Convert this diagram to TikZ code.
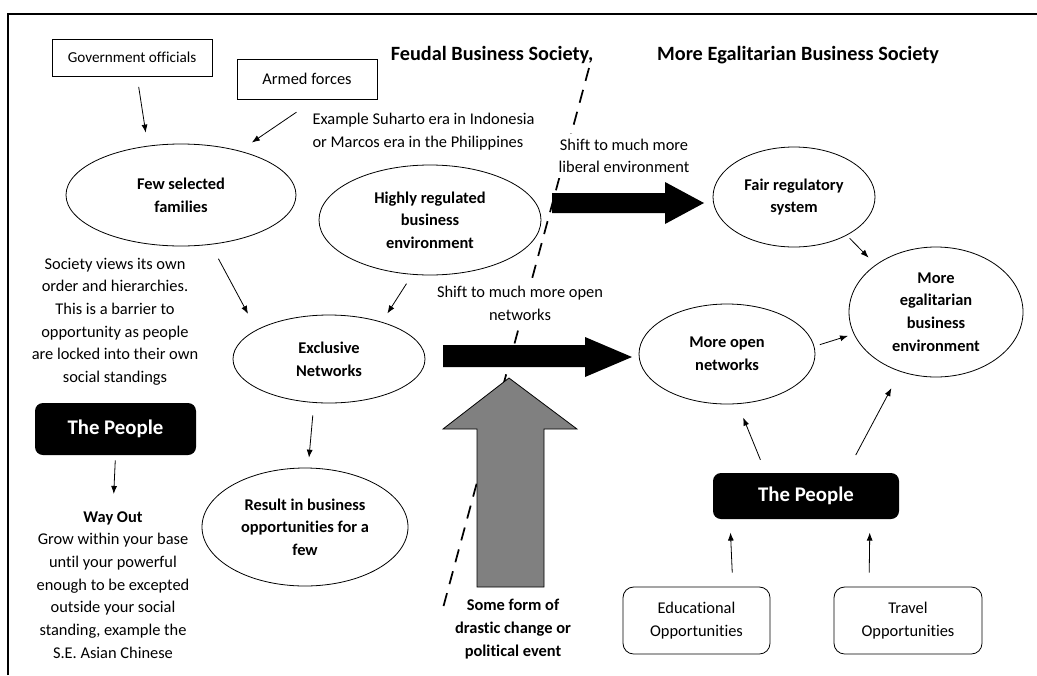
\documentclass[tikz,border=0pt]{standalone}
\usepackage{fontspec}
\setmainfont{Carlito}[Ligatures=NoCommon]
\usetikzlibrary{shapes.geometric,arrows.meta}

\begin{document}
\begin{tikzpicture}[x=0.75pt,y=-0.75pt,
  >={Latex[length=6pt,width=4.5pt]},
  txt/.style={font=\fontsize{12.3}{17}\selectfont,align=center,inner sep=1pt},
  oval/.style={draw,ellipse,line width=0.6pt,inner sep=0pt,align=center,
    font=\fontsize{12.3}{17}\selectfont\bfseries},
  plainbox/.style={draw,rectangle,line width=0.6pt,inner sep=0pt},
  peoplebox/.style={fill=black,rounded corners=6pt,text=white,inner sep=0pt,
    font=\fontsize{15.6}{17}\selectfont\bfseries},
  optbox/.style={draw,rounded corners=8pt,line width=0.6pt,inner sep=0pt,
    align=center,font=\fontsize{12.3}{17}\selectfont},
  title/.style={font=\fontsize{15.2}{17}\selectfont\bfseries},
  arr/.style={->,line width=0.6pt}]
\useasboundingbox (0,0) rectangle (1037,675);

% frame
\draw[line width=1.5pt] (8,675) -- (8,14) -- (1037,14);

% dividing line between the two societies
\draw[line width=1.3pt,dash pattern=on 10pt off 7pt] (589,68) -- (443,608);

\node[title] (feudal) at (492,55) {Feudal Business Society,};
\node[title] (egaltitle) at (798,55) {More Egalitarian Business Society};

% feudal side
\node[plainbox,minimum width=120pt,minimum height=27.75pt,
  font=\fontsize{11.4}{13}\selectfont] (gov) at (132,57.5) {Government officials};
\node[plainbox,minimum width=105pt,minimum height=30pt,
  font=\fontsize{12.3}{14}\selectfont] (armed) at (307,79) {Armed forces};
\node[txt,align=left,anchor=west] (example) at (311,131.5)
  {Example Suharto era in Indonesia\\or Marcos era in the Philippines};
\node[oval,minimum width=172.5pt,minimum height=76.5pt] (few) at (181,195) {Few selected\\families};
\node[oval,minimum width=166.5pt,minimum height=82.5pt] (high) at (430,220)
  {Highly regulated\\business\\environment};
\node[oval,minimum width=144pt,minimum height=66pt] (excl) at (329,359) {Exclusive\\Networks};
\node[oval,minimum width=154.5pt,minimum height=88.5pt,inner xsep=-5pt] (result) at (305,527)
  {Result in business\\opportunities for a\\few};
\node[txt] (society) at (115,321.5) {Society views its own\\order and hierarchies.\\This is a barrier to\\opportunity as people\\are locked into their own\\social standings};
\node[peoplebox,minimum width=120.75pt,minimum height=39pt] (peopleL) at (115.5,429) {The People};
\node[txt] (wayout) at (113,585) {\textbf{Way Out}\\Grow within your base\\until your powerful\\enough to be excepted\\outside your social\\standing, example the\\S.E. Asian Chinese};

% the shift
\node[txt,fill=white,inner sep=4pt] (liberal) at (624,156) {Shift to much more\\liberal environment};
\node[txt,fill=white,inner sep=3pt] (opentxt) at (520,303.5) {Shift to much more open\\networks};
\node[txt,font=\fontsize{12.3}{17}\selectfont\bfseries] (event) at (513,629)
  {Some form of\\drastic change or\\political event};

% egalitarian side
\node[oval,minimum width=121.5pt,minimum height=75pt] (fair) at (794,197) {Fair regulatory\\system};
\node[oval,minimum width=130.5pt,minimum height=97.5pt] (egal) at (936,312)
  {More\\egalitarian\\business\\environment};
\node[oval,minimum width=132pt,minimum height=75pt] (open) at (727,354) {More open\\networks};
\node[peoplebox,minimum width=139.5pt,minimum height=34.5pt] (peopleR) at (806,496) {The People};
\node[optbox,minimum width=110.25pt,minimum height=50.25pt] (edu) at (696.5,620.5) {Educational\\Opportunities};
\node[optbox,minimum width=111pt,minimum height=50.25pt] (travel) at (908,620.5) {Travel\\Opportunities};

% block arrows
\fill (552,193) -- (665,193) -- (665,182) -- (704,203) -- (665,224) -- (665,213) -- (552,213) -- cycle;
\fill (443,345) -- (585,345) -- (585,337) -- (632,357) -- (585,377) -- (585,367) -- (443,367) -- cycle;
\draw[fill=gray,line width=0.6pt] (509,378) -- (577,429) -- (544,429) -- (544,587)
  -- (477,587) -- (477,429) -- (443,429) -- cycle;

% connectors
\draw[arr,shorten <=8pt,shorten >=10pt] (gov.-75) -- (few.124);
\draw[arr,shorten <=17pt,shorten >=11pt] (armed.-68) -- (few.37);
\draw[arr,shorten <=12pt,shorten >=13.5pt] (few.-59) -- (excl.158);
\draw[arr,shorten <=8pt,shorten >=7.5pt] (high.-108) -- (excl.35);
\draw[arr,shorten <=9.5pt,shorten >=7.5pt] (excl.-109) -- (result.87);
\draw[arr,shorten <=3.75pt,shorten >=12pt] (peopleL.south) -- (wayout.north);
\draw[arr,shorten <=3pt,shorten >=7.5pt] (fair.-36) -- (egal.142);
\draw[arr,shorten <=4.3pt,shorten >=4.5pt] (open.5) -- (egal.-165);
\draw[arr,shorten <=10.5pt,shorten >=11pt] (peopleR.150) -- (open.-78);
\draw[arr,shorten <=15pt,shorten >=14pt] (peopleR.30) -- (egal.-121);
\draw[arr,shorten <=10.5pt,shorten >=10pt] (edu.43) -- (peopleR.-163);
\draw[arr,shorten <=10.5pt,shorten >=10pt] (travel.139) -- (peopleR.-20);
\end{tikzpicture}
\end{document}
